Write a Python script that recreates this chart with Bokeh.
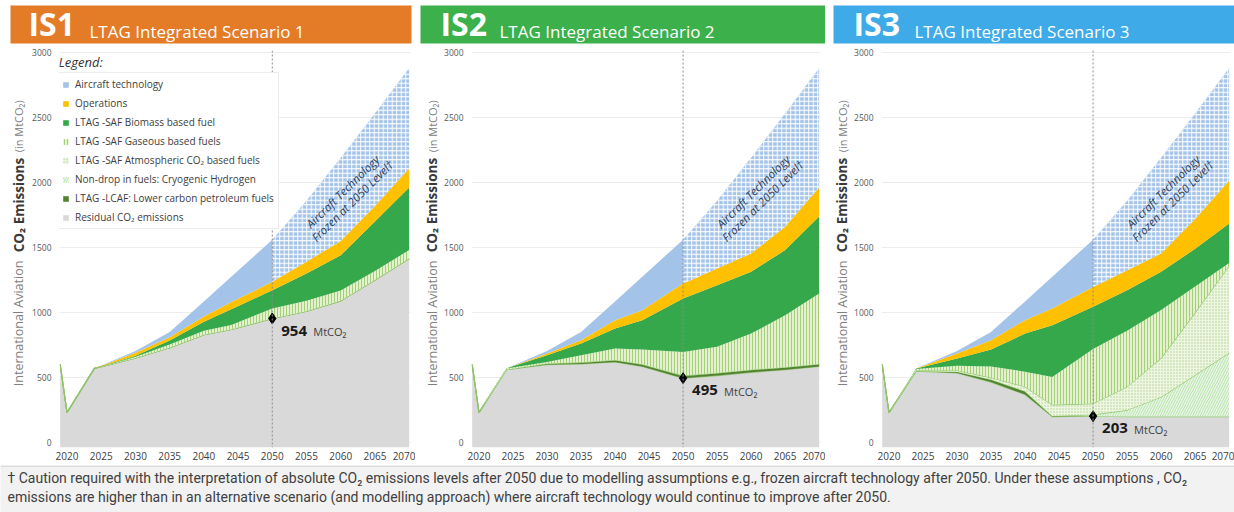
import numpy as np
from bokeh.plotting import figure
from bokeh.layouts import column, row
from bokeh.models import Span, Label, Legend, LegendItem, FixedTicker, Range1d
from bokeh.embed import file_html
from bokeh.resources import INLINE
from bokeh.core.properties import value

# ---------------- data ----------------
years = [2019, 2020, 2024, 2030, 2035, 2040, 2044, 2050, 2055, 2060, 2065, 2070]
baseline = [600, 230, 570, 705, 850, 1085, 1275, 1560, 1860, 2190, 2530, 2880]
x_ticks = [2020, 2025, 2030, 2035, 2040, 2045, 2050, 2055, 2060, 2065, 2070]
y_ticks = [0, 500, 1000, 1500, 2000, 2500, 3000]
frozen_year = 2050

scenario_codes = ["IS1", "IS2", "IS3"]
scenario_titles = ["LTAG Integrated Scenario 1", "LTAG Integrated Scenario 2", "LTAG Integrated Scenario 3"]
header_colors = ["#e47b26", "#3cb04b", "#3eaae8"]

layer_names = ["Residual CO\u2082 emissions",
               "LTAG -LCAF: Lower carbon petroleum fuels",
               "Non-drop in fuels: Cryogenic Hydrogen",
               "LTAG -SAF Atmospheric CO\u2082 based fuels",
               "LTAG -SAF Gaseous based fuels",
               "LTAG -SAF Biomass based fuel",
               "Operations"]
aircraft_name = "Aircraft technology"

y_title_parts = ["International Aviation", "CO\u2082 Emissions", "(in MtCO\u2082)"]

is1_residual = [600, 230, 570, 650, 730, 830, 870, 954, 1010, 1090, 1250, 1415]
is1_lcaf = [0, 0, 0, 0, 0, 0, 0, 0, 0, 0, 0, 0]
is1_hydrogen = [0, 0, 0, 0, 0, 0, 0, 0, 0, 0, 0, 0]
is1_atmospheric = [0, 0, 0, 0, 0, 0, 0, 0, 0, 0, 0, 0]
is1_gaseous = [0, 0, 0, 10, 25, 30, 35, 76, 80, 80, 70, 65]
is1_biomass = [0, 0, 0, 8, 30, 70, 120, 142, 210, 270, 380, 482]
is1_operations = [0, 0, 0, 22, 25, 40, 55, 64, 90, 110, 120, 146]

is2_residual = [600, 230, 560, 600, 605, 620, 585, 495, 515, 540, 560, 585]
is2_lcaf = [0, 0, 0, 8, 12, 15, 18, 20, 20, 20, 20, 20]
is2_hydrogen = [0, 0, 0, 0, 0, 0, 0, 0, 0, 0, 0, 0]
is2_atmospheric = [0, 0, 0, 0, 0, 0, 0, 0, 0, 0, 0, 0]
is2_gaseous = [0, 0, 10, 12, 55, 88, 112, 182, 201, 278, 399, 541]
is2_biomass = [0, 0, 0, 52, 89, 154, 226, 411, 474, 475, 501, 592]
is2_operations = [0, 0, 0, 13, 26, 64, 77, 115, 128, 141, 180, 224]

is3_residual = [600, 230, 550, 535, 465, 370, 200, 203, 200, 200, 200, 200]
is3_lcaf = [0, 0, 0, 10, 20, 25, 5, 0, 0, 0, 0, 0]
is3_hydrogen = [0, 0, 0, 0, 0, 0, 0, 12, 50, 150, 320, 490]
is3_atmospheric = [0, 0, 5, 10, 15, 35, 85, 85, 180, 300, 480, 670]
is3_gaseous = [0, 0, 10, 35, 85, 115, 215, 420, 430, 370, 200, 20]
is3_biomass = [0, 0, 5, 56, 130, 293, 398, 324, 312, 293, 290, 305]
is3_operations = [0, 0, 0, 39, 72, 103, 128, 153, 154, 141, 230, 330]

footnote_lines = [
    "\u2020 Caution required with the interpretation of absolute CO\u2082 emissions levels after 2050 due to modelling assumptions e.g., frozen aircraft technology after 2050. Under these assumptions , CO\u2082",
    "emissions are higher than in an alternative scenario (and modelling approach) where aircraft technology would continue to improve after 2050.",
]

scenarios = [
    [is1_residual, is1_lcaf, is1_hydrogen, is1_atmospheric, is1_gaseous, is1_biomass, is1_operations],
    [is2_residual, is2_lcaf, is2_hydrogen, is2_atmospheric, is2_gaseous, is2_biomass, is2_operations],
    [is3_residual, is3_lcaf, is3_hydrogen, is3_atmospheric, is3_gaseous, is3_biomass, is3_operations],
]

# ---------------- styling ----------------
FONT = "Open Sans"
Y_MIN, Y_MAX = -38, 3015
X_MIN, X_MAX = 2018.9, 2070.2
layer_styles = [
    dict(fill_color="#d9d9d9"),
    dict(fill_color="#548235"),
    dict(fill_color="#eaf7e6", hatch_pattern="right_diagonal_line", hatch_color="#b5e2aa", hatch_scale=5, hatch_weight=1),
    dict(fill_color="#eef6e2", hatch_pattern="dot", hatch_color="#a9d18e", hatch_scale=3, hatch_weight=1),
    dict(fill_color="#e4f1cf", hatch_pattern="vertical_line", hatch_color="#a3cf78", hatch_scale=3, hatch_weight=1),
    dict(fill_color="#35a84b"),
    dict(fill_color="#ffc000"),
]
aircraft_color = "#a4c3e8"
outline_green = "#8fc46a"

HEADER_H, CHART_H, FOOTER_H = 44, 421, 47
# panel: total width, y-title strip width, chart border left, chart border right,
#        header gap left, header gap right, y-title x, header IS x, header title x
geometry = [
    dict(w=415, yt=29, bl=30, br=5, hl=10, hr=4, tx=18, isx=18, stx=79),
    dict(w=410, yt=26, bl=28, br=5, hl=5, hr=0, tx=16.5, isx=20, stx=79),
    dict(w=409, yt=26, bl=28, br=4, hl=8, hr=0, tx=16.5, isx=20, stx=81),
]


def bare(width, height, xr, yr, **kw):
    f = figure(width=width, height=height, x_range=xr, y_range=yr, title=None,
               toolbar_location=None, output_backend="svg",
               x_axis_location=None, y_axis_location=None, **kw)
    f.grid.visible = False
    f.outline_line_color = None
    return f


yrs = np.array(years, dtype=float)
base = np.array(baseline, dtype=float)
iz = years.index(frozen_year)

columns = []
for k in range(3):
    g = geometry[k]
    # ---- header ----
    hw = g["w"] - g["hl"] - g["hr"]
    h = bare(g["w"], HEADER_H, Range1d(0, hw), Range1d(0, 38),
             min_border_left=g["hl"], min_border_right=g["hr"], min_border_top=5, min_border_bottom=1)
    h.background_fill_color = header_colors[k]
    h.border_fill_color = "white"
    h.text(x=[g["isx"]], y=[20.5], text=[scenario_codes[k]], text_font=value(FONT), text_font_size="32px",
           text_font_style="bold", text_color="white", text_baseline="middle")
    h.text(x=[g["stx"]], y=[12.2], text=[scenario_titles[k]], text_font=value(FONT), text_font_size="17px",
           text_color="white", text_baseline="middle")

    # ---- y title strip ----
    yt = bare(g["yt"], CHART_H, Range1d(0, g["yt"]), Range1d(0, CHART_H),
              min_border_left=0, min_border_right=0, min_border_top=0, min_border_bottom=0)
    yt.background_fill_color = "white"
    yt.border_fill_color = "white"
    yt.text(x=[g["tx"]], y=[65], text=[y_title_parts[0]], angle=np.pi / 2, text_font=value(FONT),
            text_font_size="12.5px", text_color="#808080", text_baseline="middle", text_align="left")
    yt.text(x=[g["tx"]], y=[207], text=[y_title_parts[1]], angle=np.pi / 2, text_font=value(FONT),
            text_font_size="13.5px", text_font_style="bold", text_color="#3a3a3a",
            text_baseline="middle", text_align="left")
    yt.text(x=[g["tx"]], y=[313], text=[y_title_parts[2]], angle=np.pi / 2, text_font=value(FONT),
            text_font_size="11px", text_color="#808080", text_baseline="middle", text_align="left")

    # ---- chart ----
    p = figure(width=g["w"] - g["yt"], height=CHART_H, x_range=Range1d(X_MIN, X_MAX),
               y_range=Range1d(Y_MIN, Y_MAX), title=None,
               toolbar_location=None, output_backend="svg",
               min_border_left=g["bl"], min_border_right=g["br"], min_border_top=6, min_border_bottom=18)
    p.outline_line_color = None
    p.background_fill_color = "white"
    p.border_fill_color = "white"
    p.xgrid.visible = False
    p.ygrid.grid_line_color = "#ececec"
    p.xaxis.ticker = FixedTicker(ticks=x_ticks)
    p.yaxis.ticker = FixedTicker(ticks=y_ticks)
    p.axis.axis_line_color = None
    p.axis.major_tick_line_color = None
    p.axis.minor_tick_line_color = None
    p.axis.major_tick_out = 0
    p.axis.major_tick_in = 0
    p.xaxis.major_label_text_font_size = "10px"
    p.xaxis.major_label_text_color = "#404040"
    p.xaxis.major_label_standoff = 4
    p.yaxis.major_label_text_font_size = "8.5px"
    p.yaxis.major_label_text_color = "#595959"
    p.yaxis.major_label_standoff = 8
    p.axis.major_label_text_font = FONT

    layers = np.array(scenarios[k], dtype=float)
    tops = np.cumsum(layers, axis=0)
    lows = np.vstack([np.full(len(yrs), Y_MIN), tops[:-1]])
    rends = []
    for j in range(len(layers)):
        r = p.varea(x=yrs, y1=lows[j], y2=tops[j], **layer_styles[j])
        rends.append(r)
        if j in (0, 2, 3):
            p.line(x=yrs, y=tops[j], line_color=outline_green, line_width=1.2)
    ops_top = tops[-1]
    r_air = p.varea(x=yrs[:iz + 1], y1=ops_top[:iz + 1], y2=base[:iz + 1], fill_color=aircraft_color)
    p.varea(x=yrs[iz:], y1=ops_top[iz:], y2=base[iz:], fill_color=aircraft_color,
            hatch_pattern="cross", hatch_color="white", hatch_scale=4.5, hatch_weight=1)

    p.add_layout(Span(location=frozen_year, dimension="height", line_color="#8c8c8c",
                      line_dash="2 2", line_width=1))

    rv = scenarios[k][0][iz]
    p.scatter(x=[frozen_year], y=[rv], marker="diamond", size=11, color="black")
    p.text(x=[frozen_year], y=[rv], text=[str(rv)], x_offset=9, y_offset=12, text_font=value(FONT),
           text_font_size="15px", text_font_style="bold", text_color="#1a1a1a", text_baseline="middle")
    p.text(x=[frozen_year], y=[rv], text=["MtCO\u2082"], x_offset=41, y_offset=13, text_font=value(FONT),
           text_font_size="11px", text_color="#404040", text_baseline="middle")

    # frozen-technology annotation
    p.text(x=[2060.3], y=[1930], text=["Aircraft Technology"], angle=0.78, text_font=value(FONT),
           text_font_size="11.5px", text_font_style="italic", text_color="#2f3f5a",
           text_align="center", text_baseline="middle")
    p.text(x=[2061.7], y=[1858], text=["Frozen at 2050 Level\u2020"], angle=0.78, text_font=value(FONT),
           text_font_size="11.5px", text_font_style="italic", text_color="#2f3f5a",
           text_align="center", text_baseline="middle")

    if k == 0:
        items = [LegendItem(label=aircraft_name, renderers=[r_air])]
        for j in range(len(layers) - 1, -1, -1):
            items.append(LegendItem(label=layer_names[j], renderers=[rends[j]]))
        leg = Legend(items=items, location=(-2, 218), glyph_width=7, glyph_height=7,
                     label_height=12, spacing=5, padding=4, label_standoff=6,
                     label_text_font=FONT, label_text_font_size="10px", label_text_color="#404040",
                     border_line_color="#d9d9d9", background_fill_color="white", background_fill_alpha=1)
        p.add_layout(leg)
        p.add_layout(Label(x=-1, y=386, x_units="screen", y_units="screen", text="Legend:",
                           text_font=FONT, text_font_size="13px", text_font_style="italic",
                           text_color="#333333", text_baseline="middle"))

    columns.append(column(h, row(yt, p, spacing=0), spacing=0))

# ---------------- footer ----------------
f = bare(1234, FOOTER_H, Range1d(0, 1234), Range1d(0, FOOTER_H),
         min_border_left=0, min_border_right=0, min_border_top=0, min_border_bottom=0)
f.background_fill_color = "#f2f2f2"
f.border_fill_color = "#f2f2f2"
f.add_layout(Span(location=FOOTER_H - 0.5, dimension="width", line_color="#c8c8c8", line_width=1))
f.text(x=[7, 7], y=[35, 16], text=footnote_lines, text_font=value("Roboto"), text_font_size="14px",
       text_color="#404040", text_baseline="middle")

layout = column(row(*columns, spacing=0), f, spacing=0)

open("out.html", "w").write(file_html(layout, INLINE))
